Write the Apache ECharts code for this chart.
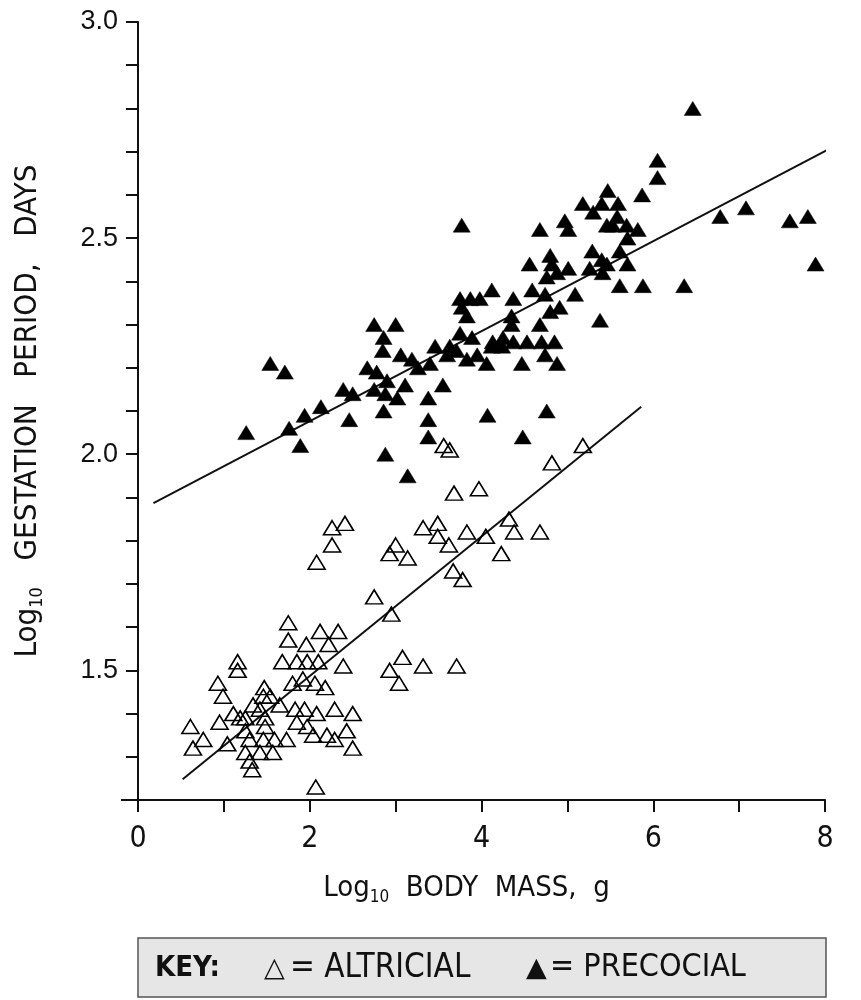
<!DOCTYPE html>
<html>
<head>
<meta charset="utf-8">
<script src="https://cdn.jsdelivr.net/npm/echarts@6/dist/echarts.min.js"></script>
<style>
html,body{margin:0;padding:0;background:#fff;}
#chart{width:861px;height:1000px;}
</style>
</head>
<body>
<div id="chart"></div>
<script>
// Log10 body mass (g), Log10 gestation period (days)
const precocial = [
[1.26,2.05],[1.54,2.21],[1.71,2.19],[1.76,2.06],[1.89,2.02],[1.94,2.09],[2.13,2.11],[2.39,2.15],[2.46,2.08],[2.50,2.14],
[2.75,2.30],[3.00,2.30],[2.86,2.27],[2.85,2.24],[2.67,2.20],[2.78,2.19],[2.90,2.17],[2.75,2.15],[2.88,2.14],[3.02,2.13],
[2.86,2.10],[3.11,2.16],[3.06,2.23],[3.19,2.22],[3.26,2.20],[3.40,2.21],[3.46,2.25],[3.55,2.16],[3.38,2.13],[3.38,2.08],
[3.38,2.04],[2.88,2.00],[3.14,1.95],[3.75,2.36],[3.87,2.36],[3.98,2.36],[3.77,2.34],[3.83,2.32],[3.75,2.28],[3.89,2.27],
[3.63,2.25],[3.60,2.23],[3.71,2.24],[3.83,2.22],[3.95,2.23],[4.12,2.25],[4.13,2.26],[4.25,2.27],[4.24,2.25],[4.37,2.26],
[4.06,2.21],[4.07,2.09],[4.12,2.38],[4.37,2.36],[4.35,2.32],[4.35,2.30],[4.47,2.21],[4.48,2.04],[4.53,2.26],[3.77,2.53],
[4.56,2.44],[4.59,2.38],[4.68,2.52],[4.68,2.30],[4.70,2.26],[4.74,2.37],[4.74,2.23],[4.76,2.41],[4.76,2.10],
[4.80,2.46],[4.80,2.33],[4.82,2.44],[4.85,2.26],[4.88,2.42],[4.88,2.21],[4.91,2.34],[4.97,2.54],[5.01,2.52],[5.01,2.43],
[5.09,2.37],[5.18,2.58],[5.26,2.43],[5.29,2.47],[5.30,2.56],[5.38,2.31],[5.40,2.58],[5.40,2.45],[5.41,2.42],[5.46,2.53],
[5.46,2.44],[5.47,2.61],[5.53,2.53],[5.58,2.55],[5.59,2.58],[5.61,2.47],[5.61,2.39],[5.69,2.53],[5.70,2.50],[5.70,2.44],
[5.82,2.52],[5.87,2.60],[5.88,2.39],[6.05,2.68],[6.05,2.64],[6.36,2.39],[6.46,2.80],[6.78,2.55],[7.08,2.57],[7.59,2.54],
[7.80,2.55],[7.89,2.44]
];
const altricial = [
[1.75,1.61],[1.75,1.57],[2.12,1.59],[2.33,1.59],[1.96,1.56],[2.22,1.56],[2.39,1.51],[1.16,1.52],[1.16,1.50],[1.68,1.52],
[1.85,1.52],[1.97,1.52],[2.10,1.52],[1.80,1.47],[1.92,1.48],[2.06,1.47],[2.18,1.46],[0.93,1.47],[0.99,1.44],[1.47,1.46],
[1.46,1.44],[1.34,1.42],[1.65,1.42],[1.11,1.40],[1.19,1.39],[1.48,1.39],[1.83,1.41],[1.94,1.41],[2.08,1.40],[2.29,1.41],
[2.50,1.40],[1.85,1.38],[0.95,1.38],[1.97,1.37],[2.04,1.35],[2.20,1.35],[2.29,1.34],[2.43,1.36],[2.50,1.32],[0.61,1.37],
[0.76,1.34],[0.64,1.32],[1.04,1.33],[1.25,1.36],[1.30,1.34],[1.48,1.37],[1.46,1.34],[1.59,1.34],[1.73,1.34],[1.25,1.31],
[1.42,1.31],[1.57,1.31],[1.30,1.29],[1.33,1.27],[2.07,1.23],[1.25,1.39],[1.42,1.41],[1.54,1.44],
[3.56,2.02],[3.63,2.01],[5.18,2.02],[4.82,1.98],[3.68,1.91],[3.97,1.92],[2.41,1.84],[2.26,1.83],[2.26,1.79],[2.08,1.75],
[3.00,1.79],[2.93,1.77],[3.14,1.76],[3.32,1.83],[3.49,1.84],[3.49,1.81],[3.62,1.79],[3.83,1.82],[4.05,1.81],[4.32,1.85],
[4.38,1.82],[4.68,1.82],[4.23,1.77],[3.67,1.73],[3.78,1.71],[2.75,1.67],[2.95,1.63],[3.08,1.53],[2.93,1.50],[3.32,1.51],
[3.71,1.51],[3.04,1.47]
];
const precocialFit = [[0.18,1.887],[8.42,2.745]];
const altricialFit = [[0.52,1.248],[5.86,2.11]];
const xLabels = [0,2,4,6,8];
const yLabels = [1.5,2.0,2.5,3.0];

const sans = "'Liberation Sans',sans-serif";
const narrow = "'Liberation Sans Narrow','DejaVu Sans Condensed','Liberation Sans',sans-serif";

const chart = echarts.init(document.getElementById('chart'), null, {renderer:'canvas'});
const near = (v, list) => list.some(t => Math.abs(t - v) < 1e-6);

chart.setOption({
  animation:false,
  backgroundColor:'#ffffff',
  grid:{left:138,right:36,top:22,bottom:200,containLabel:false},
  xAxis:{
    type:'value',min:0,max:8,interval:1,
    axisLine:{show:true,onZero:false,lineStyle:{color:'#111',width:2}},
    axisTick:{show:true,length:12,lineStyle:{color:'#111',width:2}},
    splitLine:{show:false},
    axisLabel:{fontSize:30,color:'#111',margin:24,fontFamily:narrow,
      formatter:v=>near(v,xLabels)?String(Math.round(v)):''},
    name:'{a|Log}{s|10}{a|  BODY  MASS,  g}',
    nameLocation:'middle',nameGap:70,
    nameTextStyle:{rich:{
      a:{fontSize:29,color:'#111',fontFamily:narrow,lineHeight:36},
      s:{fontSize:17,color:'#111',fontFamily:narrow,lineHeight:36,verticalAlign:'bottom',padding:[16,0,0,0]}
    },padding:[0,30,0,0]}
  },
  yAxis:{
    type:'value',min:1.2,max:3.0,interval:0.1,
    axisLine:{show:true,onZero:false,lineStyle:{color:'#111',width:2}},
    axisTick:{show:true,length:12,lineStyle:{color:'#111',width:2}},
    splitLine:{show:false},
    axisLabel:{fontSize:27,color:'#111',margin:20,fontFamily:sans,
      formatter:v=>near(v,yLabels)?v.toFixed(1):''},
    name:'{a|Log}{s|10}{a|   GESTATION   PERIOD,   DAYS}',
    nameLocation:'middle',nameGap:92,nameRotate:90,
    nameTextStyle:{rich:{
      a:{fontSize:31,color:'#111',fontFamily:narrow,lineHeight:36},
      s:{fontSize:18,color:'#111',fontFamily:narrow,lineHeight:36,verticalAlign:'bottom',padding:[16,0,0,0]}
    }}
  },
  series:[
    {type:'line',data:altricialFit,symbol:'none',lineStyle:{color:'#111',width:2},z:1,clip:false,silent:true},
    {type:'line',data:precocialFit,symbol:'none',lineStyle:{color:'#111',width:2},z:1,clip:false,silent:true},
    {type:'scatter',name:'ALTRICIAL',data:altricial,symbol:'triangle',symbolSize:[17,14],
      itemStyle:{color:'rgba(255,255,255,0)',borderColor:'#000',borderWidth:1.6,opacity:1},z:3},
    {type:'scatter',name:'PRECOCIAL',data:precocial,symbol:'triangle',symbolSize:[17,14],
      itemStyle:{color:'#000',borderColor:'#000',borderWidth:0.5,opacity:1},z:4}
  ],
  graphic:[
    {type:'line',shape:{x1:121,y1:800,x2:138,y2:800},style:{stroke:'#111',lineWidth:2}},
    {type:'rect',shape:{x:138,y:938,width:688,height:59},style:{fill:'#e6e6e6',stroke:'#555',lineWidth:1.5}},
    {type:'text',x:155,y:968,style:{text:'KEY:',font:"bold 29px "+narrow,fill:'#111',verticalAlign:'middle'}},
    {type:'text',x:264,y:969,style:{text:'\u25B3',font:"27px 'DejaVu Sans',sans-serif",fill:'#111',verticalAlign:'middle'}},
    {type:'text',x:290,y:968,style:{text:'= ALTRICIAL',font:"33px "+narrow,fill:'#111',verticalAlign:'middle'}},
    {type:'text',x:526,y:969,style:{text:'\u25B2',font:"27px 'DejaVu Sans',sans-serif",fill:'#111',verticalAlign:'middle'}},
    {type:'text',x:550,y:968,style:{text:'= PRECOCIAL',font:"32px "+narrow,fill:'#111',verticalAlign:'middle'}}
  ]
});
</script>
</body>
</html>
